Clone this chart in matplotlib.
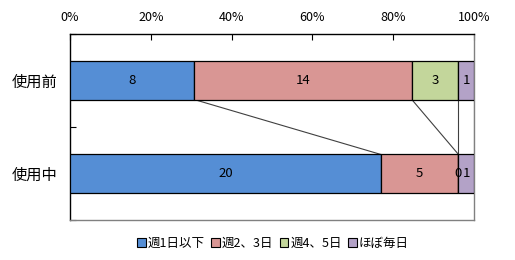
import numpy as np
import matplotlib.pyplot as plt
from matplotlib.patches import Patch

plt.rcParams['font.family'] = ['Noto Sans CJK JP', 'DejaVu Sans']
plt.rcParams['font.size'] = 9

# donnees
categories = ['使用前', '使用中']
series_names = ['週1日以下', '週2、3日', '週4、5日', 'ほぼ毎日']
counts_before = [8, 14, 3, 1]
counts_during = [20, 5, 0, 1]
colors = ['#558ED5', '#D99694', '#C3D69B', '#B3A2C7']
xtick_vals = [0, 20, 40, 60, 80, 100]

data = np.array([counts_before, counts_during], dtype=float)
pct = data / data.sum(axis=1, keepdims=True) * 100
cum = np.cumsum(pct, axis=1)
left = cum - pct

fig = plt.figure(figsize=(5.15, 2.6), dpi=100)
ax = fig.add_axes([70/515, 40/260, 404/515, 186/260])

ypos = np.arange(len(categories))
bar_h = 0.41
for j in range(len(series_names)):
    ax.barh(ypos, pct[:, j], left=left[:, j], height=bar_h, color=colors[j],
            edgecolor='black', linewidth=0.9, zorder=3)
    for i in range(len(categories)):
        ax.text(left[i, j] + pct[i, j] / 2, ypos[i], f'{int(data[i, j])}',
                ha='center', va='center', fontsize=9.5, zorder=5)

# lignes de serie entre les deux barres
for j in range(len(series_names)):
    ax.plot([cum[0, j], cum[1, j]], [ypos[0] + bar_h / 2, ypos[1] - bar_h / 2],
            color='#404040', linewidth=0.8, zorder=2)

ax.set_xlim(0, 100)
ax.set_ylim(1.5, -0.5)
ax.xaxis.tick_top()
ax.set_xticks(xtick_vals)
ax.set_xticklabels([f'{v}%' for v in xtick_vals])
ax.tick_params(axis='x', direction='in', length=4, width=0.8, pad=7, labelsize=9)
ax.set_yticks(ypos)
ax.set_yticklabels(categories, fontsize=11)
ax.set_yticks([-0.5, 0.5, 1.5], minor=True)
ax.tick_params(axis='y', which='major', length=0, pad=9)
ax.tick_params(axis='y', which='minor', direction='in', length=4, width=0.8)

for s in ['top', 'left']:
    ax.spines[s].set_color('black')
    ax.spines[s].set_linewidth(1.0)
for s in ['right', 'bottom']:
    ax.spines[s].set_color('#808080')
    ax.spines[s].set_linewidth(1.0)

handles = [Patch(facecolor=c, edgecolor='black', linewidth=0.8) for c in colors]
fig.legend(handles, series_names, loc='center', bbox_to_anchor=(273/515, 1 - 243/260),
           ncol=4, frameon=False, handlelength=0.7, handleheight=0.7,
           handletextpad=0.15, columnspacing=0.5, fontsize=9)

plt.savefig('out.png', dpi=100)
